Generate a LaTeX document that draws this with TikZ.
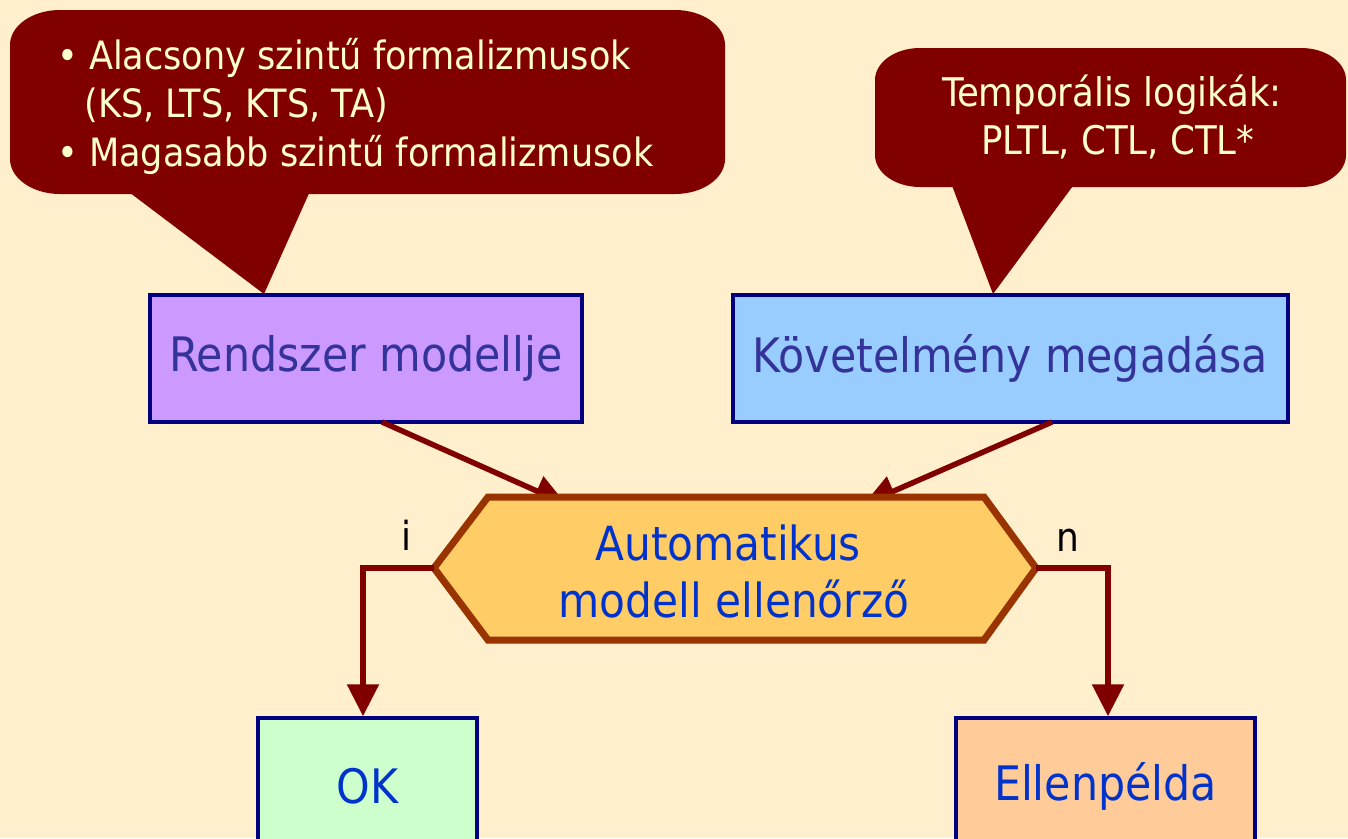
\documentclass[tikz,border=0pt]{standalone}
\usepackage{fontspec}
\setmainfont{DejaVu Sans Condensed}
\usetikzlibrary{arrows.meta,calc}
\definecolor{bgcol}{HTML}{FFEFCC}
\definecolor{calloutcol}{HTML}{800000}
\definecolor{callouttext}{HTML}{FFFFCC}
\definecolor{navycol}{HTML}{000080}
\definecolor{purplefill}{HTML}{CC99FF}
\definecolor{bluefill}{HTML}{99CCFF}
\definecolor{greenfill}{HTML}{CCFFCC}
\definecolor{orangefill}{HTML}{FFCC99}
\definecolor{hexfill}{HTML}{FFCC66}
\definecolor{hexline}{HTML}{993300}
\definecolor{darktext}{HTML}{333399}
\definecolor{bluetext}{HTML}{0033CC}
\definecolor{arrowcol}{HTML}{800000}
\tikzset{
  calloutshape/.style={fill=calloutcol},
  calltext/.style={text=callouttext, font=\fontsize{39}{48.5}\selectfont, inner sep=0pt},
  stepbox/.style={draw=navycol, line width=3.5pt, inner sep=0pt, font=\fontsize{47.5}{56}\selectfont},
  hexshape/.style={draw=hexline, fill=hexfill, line width=7pt, line join=miter},
  hextext/.style={text=bluetext, font=\fontsize{47}{57}\selectfont, align=center, inner sep=0pt},
  flow/.style={draw=arrowcol, line width=5.5pt, -{Triangle[length=32pt,width=31pt]}},
  branchlabel/.style={font=\fontsize{40}{48}\selectfont, text=black, inner sep=0pt}
}
\begin{document}
\begin{tikzpicture}[x=1pt,y=-1pt]
\useasboundingbox (0,0) rectangle (1348,838);
\clip (0,0) rectangle (1348,838);
\fill[bgcol] (0,0) rectangle (1348,838);

% callout 1
\fill[calloutshape] (60,10) -- (675,10)
  arc[start angle=-90, end angle=0, x radius=50, y radius=35] -- (725,159)
  arc[start angle=0, end angle=90, x radius=50, y radius=35] -- (60,194)
  arc[start angle=90, end angle=180, x radius=50, y radius=35] -- (10,45)
  arc[start angle=180, end angle=270, x radius=50, y radius=35] -- cycle;
\fill[calloutshape] (113,180) -- (315,180) -- (264,294) -- cycle;
\node[calltext, anchor=west, align=left] (c1) at (57,106)
  {• Alacsony szintű formalizmusok\\ \hspace*{0.7em}(KS, LTS, KTS, TA)\\ • Magasabb szintű formalizmusok};

% callout 2
\fill[calloutshape] (920,48) -- (1301,48)
  arc[start angle=-90, end angle=0, x radius=45, y radius=32] -- (1346,155)
  arc[start angle=0, end angle=90, x radius=45, y radius=32] -- (920,187)
  arc[start angle=90, end angle=180, x radius=45, y radius=32] -- (875,80)
  arc[start angle=180, end angle=270, x radius=45, y radius=32] -- cycle;
\fill[calloutshape] (948,175) -- (1081,175) -- (993,294) -- cycle;
\node[calltext, font=\fontsize{39.5}{48}\selectfont, align=center] (c2) at (1112,117)
  {Temporális logikák:\\ \hspace*{0.3em}PLTL, CTL, CTL*};

% top boxes
\node[stepbox, fill=purplefill, text=darktext, minimum width=432pt, minimum height=127pt] (rm) at (366,358.5) {Rendszer modellje};
\node[stepbox, fill=bluefill, text=darktext, minimum width=555pt, minimum height=127pt] (km) at (1010.5,358.5) {Követelmény megadása};

% arrows into checker (drawn below the hexagon)
\coordinate (rmout) at (382,422);
\coordinate (kmout) at (1052,422);
\coordinate (hexin1) at (566,504);
\coordinate (hexin2) at (864,504);
\draw[flow] (rmout) -- (hexin1);
\draw[flow] (kmout) -- (hexin2);

% checker hexagon
\draw[hexshape] (434,568) -- (488,497) -- (984,497) -- (1036,568) -- (984,640) -- (488,640) -- cycle;
\coordinate (hexL) at (434,568);
\coordinate (hexR) at (1036,568);
\node[hextext] (mc) at (734,571) {\hspace*{-0.25em}Automatikus\\ modell ellenőrző};

% bottom boxes
\node[stepbox, fill=greenfill, text=bluetext, minimum width=219pt, minimum height=136pt] (ok) at (367.5,786) {OK};
\node[stepbox, fill=orangefill, text=bluetext, minimum width=299pt, minimum height=136pt] (ce) at (1105.5,786) {Ellenpélda};

% branches
\draw[flow] (hexL) -- (363,568) -- (ok.north -| 363,0);
\draw[flow] (hexR) -- (1108,568) -- (ce.north -| 1108,0);
\node[branchlabel] (li) at (406,535) {i};
\node[branchlabel] (ln) at (1068,540) {n};
\end{tikzpicture}
\end{document}
